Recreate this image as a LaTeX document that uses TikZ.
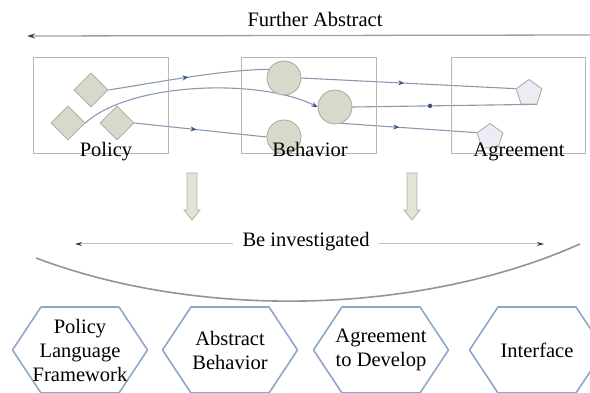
\documentclass[tikz,border=0pt]{standalone}
\usepackage{fontspec}
\setmainfont{Liberation Serif}
\usetikzlibrary{shapes.geometric,arrows.meta,decorations.markings,backgrounds}

\definecolor{boxgray}{HTML}{B6B6B6}
\definecolor{shapeline}{HTML}{A8A89A}
\definecolor{shapefill}{HTML}{D9D9CB}
\definecolor{pentafill}{HTML}{ECECF4}
\definecolor{linkblue}{HTML}{8A98B0}
\definecolor{linkdark}{HTML}{3E5488}
\definecolor{hexblue}{HTML}{8EA7C9}
\definecolor{arrowfill}{HTML}{E4E4D6}

\begin{document}
\begin{tikzpicture}[x=1pt,y=-1pt,
        font=\fontsize{20.5}{24}\selectfont,
        frame/.style={draw=boxgray,line width=1pt,inner sep=0pt,minimum height=96pt},
        diam/.style={diamond,draw=shapeline,fill=shapefill,line width=0.8pt,inner sep=0pt,minimum size=34pt},
        ball/.style={circle,draw=shapeline,fill=shapefill,line width=0.8pt,inner sep=0pt,minimum size=34pt},
        penta/.style={regular polygon,regular polygon sides=5,draw=shapeline,fill=pentafill,line width=0.8pt,inner sep=0pt,minimum size=27pt},
        link/.style={draw=linkblue,line width=1.1pt},
        midtip/.style={postaction={decorate},decoration={markings,mark=at position #1 with {\arrow{Stealth[length=6pt,width=5pt,color=linkdark]}}}},
        middot/.style={postaction={decorate},decoration={markings,mark=at position #1 with {\fill[linkdark] (0,0) circle (2.2pt);}}},
        hexline/.style={draw=hexblue,line width=1.6pt,line join=round},
        guide/.style={draw=black!38,line width=1.3pt}
    ]
        \useasboundingbox (0,0) rectangle (590,393);
        \clip (0,0) rectangle (590,393);

        % top arrow
        \node[anchor=base] (further) at (315,27) {Further Abstract};
        \coordinate (topR) at (591,35);
        \coordinate (topL) at (27,36);
        \draw[guide,-{Stealth[length=8pt,width=5pt,color=black!75]}] (topR) -- (topL);

        % the three boxes
        \node[frame,minimum width=135pt] (policyBox) at (100.5,106) {};
        \node[frame,minimum width=135pt] (behaviorBox) at (308.5,106) {};
        \node[frame,minimum width=134pt] (agreementBox) at (518,106) {};

        % shapes inside
        \node[diam] (d1) at (91,90) {};
        \node[diam] (d2) at (68,123) {};
        \node[diam] (d3) at (117,123) {};
        \node[ball] (c1) at (284,78) {};
        \node[ball] (c2) at (335,107) {};
        \node[ball] (c3) at (284,137) {};
        \node[penta] (p1) at (529,93) {};
        \node[penta] (p2) at (490,137) {};

        \node[anchor=base] (policyLbl) at (106,157) {Policy};
        \node[anchor=base] (behaviorLbl) at (310,157) {Behavior};
        \node[anchor=base] (agreementLbl) at (519,157) {Agreement};

        \begin{pgfonlayer}{background}
            \draw[link,midtip=0.5] (d1.east) .. controls (160,82) and (220,70) .. (c1.150);
            \draw[link,-{Stealth[length=6pt,width=5pt,color=linkdark]}] (d2.east) .. controls (130,82) and (260,78) .. (c2.west);
            \draw[link,midtip=0.47] (d3.east) -- (c3.west);
            \draw[link,midtip=0.48] (c1.east) -- (p1.corner 2);
            \draw[link,middot=0.42] (c2.east) -- (p1.corner 4);
            \draw[link,midtip=0.43] (c2.290) -- (p2.corner 2);
        \end{pgfonlayer}

        % hollow down arrows
        \foreach \x in {192,412}
            \draw[draw=shapeline!90,fill=arrowfill,line width=0.8pt] (\x-5,173) -- (\x+5,173) -- (\x+5,210) -- (\x+8,210)
                -- (\x,220) -- (\x-8,210) -- (\x-5,210) -- cycle;

        % investigated
        \node[anchor=base] (inv) at (306,247) {Be investigated};
        \coordinate (invL) at (75,244);
        \coordinate (invR) at (544,244);
        \draw[draw=black!25,line width=1pt,-{Stealth[length=7pt,width=4pt,color=black!80]}] (inv.west |- invL) ++(-6,0) -- (invL);
        \draw[draw=black!25,line width=1pt,-{Stealth[length=7pt,width=4pt,color=black!80]}] (inv.east |- invR) ++(6,0) -- (invR);
        \coordinate (arcL) at (36,258);
        \coordinate (arcR) at (580,244);
        \draw[draw=black!42,line width=1.6pt] (arcL) .. controls (200,320) and (420,315) .. (arcR);

        % hexagons
        \foreach \cx/\hname/\htext in {80/h1/{Policy\\Language\\Framework},230/h2/{Abstract\\Behavior},
                381/h3/{Agreement\\to Develop},537/h4/{Interface}} {
            \draw[hexline] (\cx-67.5,350) -- (\cx-39,307) -- (\cx+39,307) -- (\cx+67.5,350)
                -- (\cx+39,393) -- (\cx-39,393) -- cycle;
            \node[align=center,inner sep=0pt] (\hname) at (\cx,350) {\htext};
        }
    \end{tikzpicture}
\end{document}
